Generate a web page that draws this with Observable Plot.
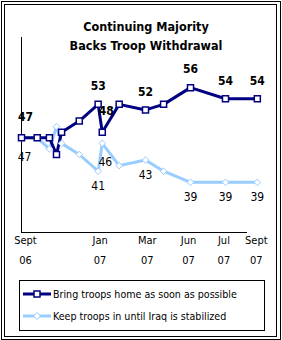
<!DOCTYPE html>
<html>
<head>
<meta charset="utf-8">
<script src="https://cdn.jsdelivr.net/npm/d3@7"></script>
<script src="https://cdn.jsdelivr.net/npm/@observablehq/plot@0.6"></script>
<style>
  html, body { margin: 0; padding: 0; background: #fff; }
  #wrap { position: relative; width: 282px; height: 340px; font-family: "DejaVu Sans Condensed", "DejaVu Sans", sans-serif; }
  .bord { position: absolute; border: 1px solid #000; box-sizing: border-box; }
  #title { position: absolute; left: 0; width: 292px; top: 17px; text-align: center; font-weight: bold; font-size: 12.5px; line-height: 19px; color: #000; }
  #chart { position: absolute; left: 0; top: 0; }
  #legend { position: absolute; left: 19px; top: 280px; width: 246px; height: 51px; border: 1px solid #000; box-sizing: border-box; font-size: 10.6px; }
  .li { position: absolute; left: 3px; height: 14px; display: flex; align-items: center; white-space: nowrap; }
  .li svg { margin-right: 2px; }
</style>
</head>
<body>
<div id="wrap">
  <div class="bord" style="left:1px;top:1px;width:280px;height:339px"></div>
  <div class="bord" style="left:4px;top:4px;width:273px;height:333px"></div>
  <div id="title"></div>
  <div id="chart"></div>
  <div id="legend"></div>
</div>
<script>
// Survey positions (months since Sept 2006)
const period = [0, 0.8, 1.42, 1.78, 2.04, 2.94, 3.9, 4.11, 4.97, 6.31, 7.23, 8.6, 10.38, 12.0];
const bringHome = [47, 47, 47, 44, 48, 50, 53, 48, 53, 52, 53, 56, 54, 54];
const keepTroops = [47, 47, 45, 49, 46, 44, 41, 46, 42, 43, 41, 39, 39, 39];
// Which points carry a value label
const labeled = [0, 6, 7, 9, 11, 12, 13];
const seriesNames = ["Bring troops home as soon as possible", "Keep troops in until Iraq is stabilized"];
const tickPos = [0.2, 4.0, 6.4, 8.5, 10.3, 11.95];
const tickMonth = ["Sept", "Jan", "Mar", "Jun", "Jul", "Sept"];
const tickYear = ["06", "07", "07", "07", "07", "07"];
const titleLines = ["Continuing Majority", "Backs Troop Withdrawal"];

const navy = "#000080";
const light = "#99ccff";
const font = '"DejaVu Sans Condensed", "DejaVu Sans", sans-serif';

const bring = period.map((p, i) => ({p, v: bringHome[i], i}));
const keep = period.map((p, i) => ({p, v: keepTroops[i], i}));
const ticks = tickPos.map((p, i) => ({p, m: tickMonth[i], y: tickYear[i]}));
const bringLab = bring.filter(d => labeled.includes(d.i));
const keepLab = keep.filter(d => labeled.includes(d.i));

document.getElementById("title").innerHTML = titleLines.join("<br>");

const chart = Plot.plot({
  width: 282,
  height: 340,
  marginLeft: 21,
  marginRight: 35,
  marginTop: 37,
  marginBottom: 108,
  style: {fontFamily: font, overflow: "visible", background: "transparent"},
  x: {domain: [0, 11.5], axis: null},
  y: {domain: [30, 65], axis: null},
  marks: [
    Plot.ruleX([0], {stroke: "#000", strokeWidth: 1}),
    Plot.ruleY([30], {stroke: "#000", strokeWidth: 1}),
    Plot.line(keep, {x: "p", y: "v", stroke: light, strokeWidth: 3, clip: false}),
    Plot.line(bring, {x: "p", y: "v", stroke: navy, strokeWidth: 3, clip: false}),
    Plot.dot(keep, {x: "p", y: "v", symbol: "diamond2", r: 3, fill: "#fff", stroke: light, strokeWidth: 1}),
    Plot.dot(bring, {x: "p", y: "v", symbol: "square", r: 3.4, fill: "#fff", stroke: navy, strokeWidth: 1.5}),
    Plot.text(bringLab.filter(d => d.i === 0 || d.i === 7), {x: "p", y: "v", text: d => String(d.v), dx: 4, dy: -21, fontWeight: "bold", fontSize: 12, fill: "#000"}),
    Plot.text(bringLab.filter(d => d.i !== 0 && d.i !== 7), {x: "p", y: "v", text: d => String(d.v), dy: -18, fontWeight: "bold", fontSize: 12, fill: "#000"}),
    Plot.text(keepLab.filter(d => d.i === 0 || d.i === 7), {x: "p", y: "v", text: d => String(d.v), dx: 3, dy: 19, fontSize: 12, fill: "#000"}),
    Plot.text(keepLab.filter(d => d.i !== 0 && d.i !== 7), {x: "p", y: "v", text: d => String(d.v), dy: 15, fontSize: 12, fill: "#000"}),
    Plot.text(ticks, {x: "p", text: "m", frameAnchor: "bottom", dy: 11, fontSize: 11, fill: "#000"}),
    Plot.text(ticks, {x: "p", text: "y", frameAnchor: "bottom", dy: 31, fontSize: 11, fill: "#000"})
  ]
});
document.getElementById("chart").appendChild(chart);

const legend = document.getElementById("legend");
const swatches = [
  `<svg width="28" height="8"><line x1="0" y1="4" x2="28" y2="4" stroke="${navy}" stroke-width="3"/><rect x="11" y="1" width="6" height="6" fill="#fff" stroke="${navy}" stroke-width="1.5"/></svg>`,
  `<svg width="28" height="8"><line x1="0" y1="4" x2="28" y2="4" stroke="${light}" stroke-width="3"/><path d="M14 0.5 L17.5 4 L14 7.5 L10.5 4 Z" fill="#fff" stroke="${light}" stroke-width="1"/></svg>`
];
seriesNames.forEach((name, i) => {
  const div = document.createElement("div");
  div.className = "li";
  div.style.top = (i === 0 ? 6 : 28) + "px";
  div.innerHTML = swatches[i] + `<span>${name}</span>`;
  legend.appendChild(div);
});
</script>
</body>
</html>
